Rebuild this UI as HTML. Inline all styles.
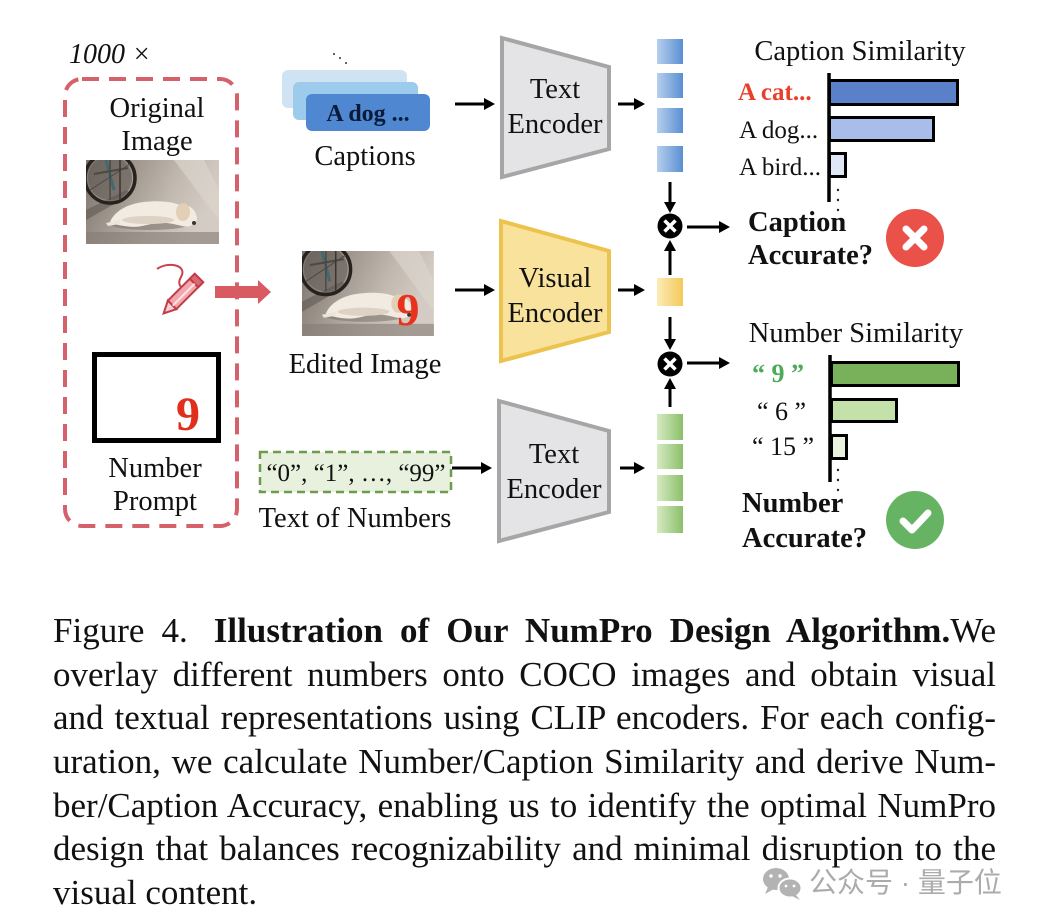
<!DOCTYPE html>
<html>
<head>
<meta charset="utf-8">
<style>
html,body{margin:0;padding:0;background:#fff;}
body{width:1046px;height:924px;position:relative;overflow:hidden;}
svg{position:absolute;left:0;top:0;}
.cap{position:absolute;left:53px;top:609px;width:943px;font-family:"Liberation Serif","Times New Roman",serif;font-size:35px;line-height:43.7px;color:#111;}
.cap div{text-align:justify;text-align-last:justify;height:43.7px;}
.cap div.last{text-align:left;text-align-last:left;}
</style>
</head>
<body>
<svg width="1046" height="924" viewBox="0 0 1046 924" font-family="Liberation Serif, Times New Roman, serif">
<defs>
  <clipPath id="pc"><rect width="133" height="84"/></clipPath>
  <linearGradient id="pg" x1="0" y1="0" x2="1" y2="0.3">
    <stop offset="0" stop-color="#7a726b"/>
    <stop offset="0.35" stop-color="#9f968d"/>
    <stop offset="0.7" stop-color="#c2b9b0"/>
    <stop offset="1" stop-color="#d4ccc4"/>
  </linearGradient>
  <linearGradient id="gb" x1="0" x2="1" y1="0" y2="0">
    <stop offset="0" stop-color="#b6cfec"/><stop offset="1" stop-color="#5a8fd3"/>
  </linearGradient>
  <linearGradient id="gy" x1="0" x2="1" y1="0" y2="0">
    <stop offset="0" stop-color="#fcebb8"/><stop offset="1" stop-color="#f3c95a"/>
  </linearGradient>
  <linearGradient id="gg" x1="0" x2="1" y1="0" y2="0">
    <stop offset="0" stop-color="#d6eac2"/><stop offset="1" stop-color="#8bc06a"/>
  </linearGradient>
  <g id="photo">
    <g clip-path="url(#pc)">
      <rect width="133" height="84" fill="url(#pg)"/>
      <polygon points="88,0 118,0 133,30 133,60" fill="#dcd4cc" opacity=".7"/>
      <polygon points="0,50 40,30 46,34 0,60" fill="#5f5852" opacity=".6"/>
      <circle cx="24" cy="18" r="22" fill="#5d5650" opacity=".55"/>
      <circle cx="24" cy="18" r="25" fill="none" stroke="#26221f" stroke-width="3.5"/>
      <line x1="20" y1="0" x2="28" y2="30" stroke="#3f6a72" stroke-width="3"/>
      <line x1="8" y1="14" x2="42" y2="8" stroke="#4d4843" stroke-width="2"/>
      <line x1="24" y1="-5" x2="24" y2="40" stroke="#4d4843" stroke-width="1.5"/>
      <line x1="4" y1="30" x2="44" y2="4" stroke="#4d4843" stroke-width="1"/>
      <line x1="34" y1="0" x2="34" y2="40" stroke="#3a3531" stroke-width="1.5"/>
      <ellipse cx="64" cy="64" rx="40" ry="6" fill="#7a726b" opacity=".55"/>
      <path d="M24,62 C28,52 40,44 58,42 C75,40 88,42 96,46 C104,44 110,50 111,58 C111,64 104,68 96,66 C88,64 80,62 70,63 L56,66 C48,68 36,66 28,64 Z" fill="#f1ebe2"/>
      <ellipse cx="62" cy="60" rx="26" ry="4" fill="#ddd2c3"/>
      <ellipse cx="97" cy="52" rx="7" ry="9" fill="#e2cfb6"/>
      <circle cx="108" cy="63" r="2" fill="#3a3430"/>
      <path d="M20,63 L34,60 L34,64 L22,66 Z" fill="#ece4d9"/>
      <rect y="72" width="133" height="12" fill="#837b74" opacity=".6"/>
    </g>
  </g>
</defs>

<!-- 1000 x -->
<text x="69" y="63" font-size="28" font-style="italic" fill="#111">1000 ×</text>

<!-- red dashed box -->
<rect x="65" y="79" width="172" height="447" rx="17" fill="none" stroke="#d5626b" stroke-width="4" stroke-dasharray="17 10"/>

<text x="157" y="117" font-size="28.5" text-anchor="middle" fill="#111">Original</text>
<text x="157" y="150" font-size="28.5" text-anchor="middle" fill="#111">Image</text>
<use href="#photo" transform="translate(86,160)"/>

<!-- pencil -->
<path d="M157,269 C168,261 188,265 181,277 C175,287 186,292 191,286" fill="none" stroke="#c8414c" stroke-width="2"/>
<g transform="translate(182,295) rotate(135)">
  <rect x="-24" y="-6" width="38" height="12" fill="#f2a7ae" stroke="#c23c48" stroke-width="2"/>
  <rect x="-24" y="-6" width="7" height="12" fill="#d96a74" stroke="#c23c48" stroke-width="2"/>
  <polygon points="14,-6 26,0 14,6" fill="#f6d0d3" stroke="#c23c48" stroke-width="2"/>
  <line x1="-17" y1="-1" x2="14" y2="-1" stroke="#fbe3e5" stroke-width="2"/>
</g>
<!-- red arrow -->
<polygon points="215,286 258,286 258,280 271,292 258,304 258,298 215,298" fill="#da5a62"/>

<!-- number prompt -->
<rect x="94.5" y="354.5" width="124" height="86" fill="#fff" stroke="#000" stroke-width="5"/>
<text x="188" y="430" font-size="48" font-weight="bold" text-anchor="middle" fill="#e0301c">9</text>
<text x="155" y="477" font-size="28.5" text-anchor="middle" fill="#111">Number</text>
<text x="155" y="510" font-size="28.5" text-anchor="middle" fill="#111">Prompt</text>

<!-- captions cards -->
<circle cx="334" cy="54" r="1" fill="#333"/>
<circle cx="340" cy="58" r="1" fill="#333"/>
<circle cx="346" cy="63" r="1" fill="#333"/>
<rect x="282" y="70" width="125" height="38" rx="6" fill="#cfe3f3"/>
<rect x="293" y="82" width="125" height="38" rx="6" fill="#9dcbec"/>
<rect x="306" y="94" width="124" height="37" rx="6" fill="#4f88d0"/>
<text x="368" y="121" font-size="24" font-weight="bold" text-anchor="middle" fill="#0a1a3a">A dog ...</text>
<text x="365" y="165" font-size="28.5" text-anchor="middle" fill="#111">Captions</text>

<!-- edited image -->
<use href="#photo" transform="translate(302,251) scale(0.992,1.012)"/>
<text x="408" y="325" font-size="46" font-weight="bold" text-anchor="middle" fill="#e8321e">9</text>
<text x="365" y="373" font-size="28.5" text-anchor="middle" fill="#111">Edited Image</text>

<!-- numbers box -->
<rect x="260" y="452" width="191" height="40" fill="#e8f1de" stroke="#6f9b4e" stroke-width="2.5" stroke-dasharray="8 5"/>
<text x="356" y="481" font-size="25" text-anchor="middle" fill="#111">“0”, “1”, …, “99”</text>
<text x="355" y="527" font-size="28.5" text-anchor="middle" fill="#111">Text of Numbers</text>

<!-- arrows -->
<g stroke="#000" stroke-width="3">
  <line x1="455" y1="104" x2="486" y2="104"/>
  <line x1="455" y1="290" x2="486" y2="290"/>
  <line x1="452" y1="468" x2="483" y2="468"/>
  <line x1="618" y1="104" x2="636" y2="104"/>
  <line x1="618" y1="290" x2="636" y2="290"/>
  <line x1="620" y1="468" x2="636" y2="468"/>
  <line x1="670" y1="182" x2="670" y2="204"/>
  <line x1="670" y1="275" x2="670" y2="249"/>
  <line x1="687" y1="227" x2="721" y2="227"/>
  <line x1="670" y1="317" x2="670" y2="341"/>
  <line x1="670" y1="407" x2="670" y2="387"/>
  <line x1="687" y1="363" x2="721" y2="363"/>
</g>
<g fill="#000">
  <polygon points="484,98 495,104 484,110"/>
  <polygon points="484,284 495,290 484,296"/>
  <polygon points="481,462 492,468 481,474"/>
  <polygon points="634,98 645,104 634,110"/>
  <polygon points="634,284 645,290 634,296"/>
  <polygon points="634,462 645,468 634,474"/>
  <polygon points="664,202 670,213 676,202"/>
  <polygon points="664,251 670,240 676,251"/>
  <polygon points="719,221 730,227 719,233"/>
  <polygon points="664,339 670,350 676,339"/>
  <polygon points="664,389 670,378 676,389"/>
  <polygon points="719,357 730,363 719,369"/>
</g>

<!-- encoders -->
<polygon points="502,38 609,67 609,149 502,177" fill="#e4e4e6" stroke="#a6a6a6" stroke-width="4"/>
<text x="555" y="98" font-size="28.5" text-anchor="middle" fill="#111">Text</text>
<text x="555" y="133" font-size="28.5" text-anchor="middle" fill="#111">Encoder</text>

<polygon points="501,221 609,251 609,332 501,361" fill="#f9e39c" stroke="#ecc34c" stroke-width="4"/>
<text x="555" y="287" font-size="28.5" text-anchor="middle" fill="#111">Visual</text>
<text x="555" y="322" font-size="28.5" text-anchor="middle" fill="#111">Encoder</text>

<polygon points="499,401 609,431 609,512 499,541" fill="#e4e4e6" stroke="#a6a6a6" stroke-width="4"/>
<text x="554" y="463" font-size="28.5" text-anchor="middle" fill="#111">Text</text>
<text x="554" y="498" font-size="28.5" text-anchor="middle" fill="#111">Encoder</text>

<!-- feature vectors -->
<rect x="657" y="39" width="26" height="25" fill="url(#gb)"/>
<rect x="657" y="73" width="26" height="25" fill="url(#gb)"/>
<rect x="657" y="108" width="26" height="25" fill="url(#gb)"/>
<rect x="657" y="146" width="26" height="26" fill="url(#gb)"/>
<rect x="657" y="278" width="26" height="28" fill="url(#gy)"/>
<rect x="657" y="414" width="26" height="26" fill="url(#gg)"/>
<rect x="657" y="444" width="26" height="25" fill="url(#gg)"/>
<rect x="657" y="475" width="26" height="26" fill="url(#gg)"/>
<rect x="657" y="506" width="26" height="27" fill="url(#gg)"/>

<!-- otimes -->
<circle cx="670" cy="226" r="12.5" fill="#000"/>
<g stroke="#fff" stroke-width="3.5"><line x1="664.5" y1="220.5" x2="675.5" y2="231.5"/><line x1="675.5" y1="220.5" x2="664.5" y2="231.5"/></g>
<circle cx="670" cy="364" r="12.5" fill="#000"/>
<g stroke="#fff" stroke-width="3.5"><line x1="664.5" y1="358.5" x2="675.5" y2="369.5"/><line x1="675.5" y1="358.5" x2="664.5" y2="369.5"/></g>

<!-- caption similarity -->
<text x="860" y="60" font-size="28.5" text-anchor="middle" fill="#111">Caption Similarity</text>
<text x="738" y="100" font-size="25" font-weight="bold" fill="#e8402a">A cat...</text>
<text x="739" y="138" font-size="25" fill="#111">A dog...</text>
<text x="739" y="175" font-size="25" fill="#111">A bird...</text>
<rect x="829.5" y="80.5" width="128" height="24" fill="#5a80c9" stroke="#000" stroke-width="3"/>
<rect x="829.5" y="117.5" width="104" height="23" fill="#a8bde9" stroke="#000" stroke-width="3"/>
<rect x="829.5" y="153.5" width="16" height="23" fill="#dfe6f6" stroke="#000" stroke-width="3"/>
<line x1="829" y1="73" x2="829" y2="202" stroke="#000" stroke-width="3.5"/>
<g fill="#222"><circle cx="838" cy="190" r="1.2"/><circle cx="838" cy="200" r="1.2"/><circle cx="838" cy="210" r="1.2"/></g>

<text x="748" y="231" font-size="28.5" font-weight="bold" fill="#111">Caption</text>
<text x="748" y="264" font-size="28.5" font-weight="bold" fill="#111">Accurate?</text>
<circle cx="915" cy="238" r="29" fill="#ea5148"/>
<g stroke="#fff" stroke-width="7" stroke-linecap="round"><line x1="906" y1="229" x2="924" y2="247"/><line x1="924" y1="229" x2="906" y2="247"/></g>

<!-- number similarity -->
<text x="856" y="342" font-size="28.5" text-anchor="middle" fill="#111">Number Similarity</text>
<text x="752" y="382" font-size="26" font-weight="bold" fill="#4caa5a">“ 9 ”</text>
<text x="757" y="420" font-size="26" fill="#111">“ 6 ”</text>
<text x="752" y="455" font-size="26" fill="#111">“ 15 ”</text>
<rect x="831.5" y="362.5" width="127" height="23" fill="#78b15a" stroke="#000" stroke-width="3"/>
<rect x="831.5" y="399.5" width="65" height="22" fill="#c3e1a9" stroke="#000" stroke-width="3"/>
<rect x="831.5" y="435.5" width="15" height="23" fill="#e8f2de" stroke="#000" stroke-width="3"/>
<line x1="830" y1="355" x2="830" y2="482" stroke="#000" stroke-width="3.5"/>
<g fill="#222"><circle cx="838" cy="470" r="1.2"/><circle cx="838" cy="480" r="1.2"/><circle cx="838" cy="490" r="1.2"/></g>

<text x="742" y="512" font-size="28.5" font-weight="bold" fill="#111">Number</text>
<text x="742" y="547" font-size="28.5" font-weight="bold" fill="#111">Accurate?</text>
<circle cx="915" cy="520" r="29" fill="#66b463"/>
<polyline points="903,521 912,530 928,513" fill="none" stroke="#fff" stroke-width="7" stroke-linecap="round" stroke-linejoin="round"/>
</svg>

<div class="cap">
  <div><span style="margin-right:9px">Figure 4.</span> <b>Illustration of Our NumPro Design Algorithm.</b>We</div>
  <div>overlay different numbers onto COCO images and obtain visual</div>
  <div>and textual representations using CLIP encoders. For each config-</div>
  <div>uration, we calculate Number/Caption Similarity and derive Num-</div>
  <div>ber/Caption Accuracy, enabling us to identify the optimal NumPro</div>
  <div>design that balances recognizability and minimal disruption to the</div>
  <div class="last">visual content.</div>
</div>

<svg width="1046" height="924" viewBox="0 0 1046 924" style="pointer-events:none">
  <ellipse cx="776" cy="879" rx="13" ry="11" fill="#b3b3b3"/>
  <polygon points="768,887 765,894 774,889" fill="#b3b3b3"/>
  <ellipse cx="790" cy="888" rx="11.5" ry="9.5" fill="#b3b3b3" stroke="#fff" stroke-width="2"/>
  <polygon points="796,895 800,900 792,896" fill="#b3b3b3"/>
  <circle cx="771" cy="876" r="1.7" fill="#fff"/>
  <circle cx="780" cy="876" r="1.7" fill="#fff"/>
  <circle cx="786" cy="886" r="1.4" fill="#fff"/>
  <circle cx="794" cy="886" r="1.4" fill="#fff"/>
  <text x="809" y="892" font-size="28" fill="#ababab" font-family="Liberation Sans, Noto Sans CJK SC, sans-serif">公众号 · 量子位</text>
</svg>
</body>
</html>
